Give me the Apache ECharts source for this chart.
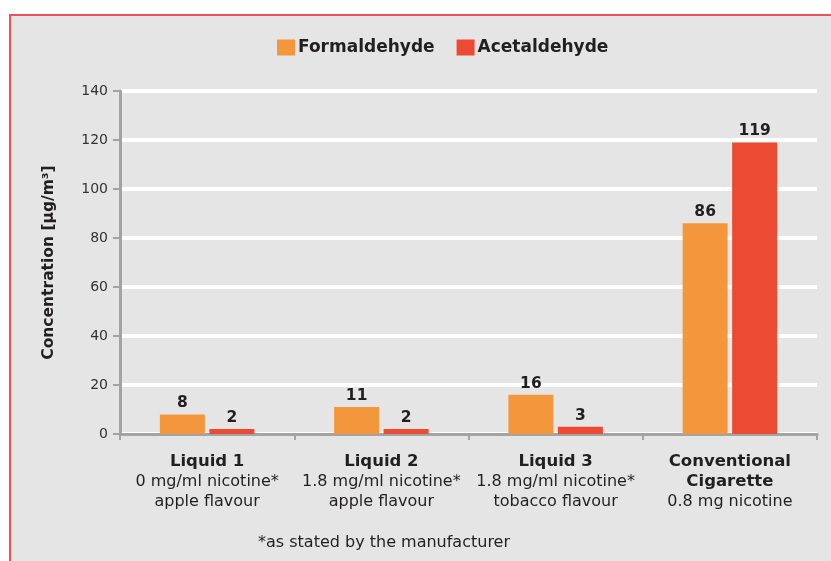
<!DOCTYPE html>
<html>
<head>
<meta charset="utf-8">
<script src="https://cdn.jsdelivr.net/npm/echarts@6/dist/echarts.min.js"></script>
<style>
  html, body { margin: 0; padding: 0; background: #ffffff; }
  #frame { position: absolute; left: 9px; top: 14px; width: 840px; height: 560px;
           background: #e5e5e5; border-left: 2px solid #ee4f5a; border-top: 2px solid #ee4f5a; }
  #chart { position: absolute; left: 0; top: 0; width: 831px; height: 561px; }
</style>
</head>
<body>
<div id="frame"></div>
<div id="chart"></div>
<script>
const categories = ['Liquid 1', 'Liquid 2', 'Liquid 3', 'Conventional Cigarette'];
const categoryLabels = [
  '{b|Liquid 1}\n{n|0 mg/ml nicotine*}\n{n|apple flavour}',
  '{b|Liquid 2}\n{n|1.8 mg/ml nicotine*}\n{n|apple flavour}',
  '{b|Liquid 3}\n{n|1.8 mg/ml nicotine*}\n{n|tobacco flavour}',
  '{b|Conventional}\n{b|Cigarette}\n{n|0.8 mg nicotine}'
];
const formaldehyde = [8, 11, 16, 86];
const acetaldehyde = [2, 2, 3, 119];
const yTicks = [0, 20, 40, 60, 80, 100, 120, 140];
const footnote = '*as stated by the manufacturer';

const chart = echarts.init(document.getElementById('chart'), null, { renderer: 'canvas' });
const font = 'DejaVu Sans';
const axisGray = '#a3a3a3';
const labelStyle = {
  show: true, position: 'top', distance: 3,
  fontFamily: font, fontWeight: 'bold', fontSize: 15.5, color: '#231f20'
};
chart.setOption({
  backgroundColor: 'transparent',
  animation: false,
  legend: {
    left: 272, top: 34,
    itemWidth: 18, itemHeight: 16, itemGap: 22,
    icon: 'rect',
    textStyle: { fontFamily: font, fontWeight: 'bold', fontSize: 17, color: '#231f20', padding: [0, 0, 0, -2] },
    data: ['Formaldehyde', 'Acetaldehyde']
  },
  grid: { left: 120, right: 14, top: 91, bottom: 127, containLabel: false },
  xAxis: {
    type: 'category',
    data: categories,
    axisLine: { show: true, lineStyle: { color: axisGray, width: 3 } },
    axisTick: { show: true, length: 6, lineStyle: { color: axisGray, width: 2 }, alignWithLabel: false },
    axisLabel: {
      interval: 0, margin: 17,
      formatter: function (v, i) { return categoryLabels[i]; },
      rich: {
        b: { fontFamily: font, fontWeight: 'bold', fontSize: 16.5, color: '#231f20', lineHeight: 20.5 },
        n: { fontFamily: font, fontSize: 16, color: '#231f20', lineHeight: 20.5 }
      }
    },
    splitLine: { show: false }
  },
  yAxis: {
    type: 'value',
    min: yTicks[0], max: yTicks[yTicks.length - 1], interval: 20,
    name: 'Concentration [µg/m³]',
    nameLocation: 'middle', nameGap: 63, nameRotate: 90,
    nameTextStyle: { fontFamily: font, fontWeight: 'bold', fontSize: 15.5, color: '#231f20' },
    axisLine: { show: true, lineStyle: { color: axisGray, width: 3 } },
    axisTick: { show: true, length: 7, lineStyle: { color: axisGray, width: 2 } },
    axisLabel: { margin: 12, fontFamily: font, fontSize: 14, color: '#333333' },
    splitLine: { show: true, lineStyle: { color: '#ffffff', width: 4 } }
  },
  series: [
    {
      name: 'Formaldehyde', type: 'bar', data: formaldehyde,
      barWidth: 45, barGap: '10%',
      itemStyle: { color: '#f4973c' },
      label: labelStyle
    },
    {
      name: 'Acetaldehyde', type: 'bar', data: acetaldehyde,
      barWidth: 45,
      itemStyle: { color: '#ec4a33' },
      label: labelStyle
    }
  ],
  graphic: [
    {
      type: 'text', left: 258, top: 535,
      style: { text: footnote, fontFamily: font, fontSize: 16, fill: '#231f20' }
    }
  ]
});
</script>
</body>
</html>
